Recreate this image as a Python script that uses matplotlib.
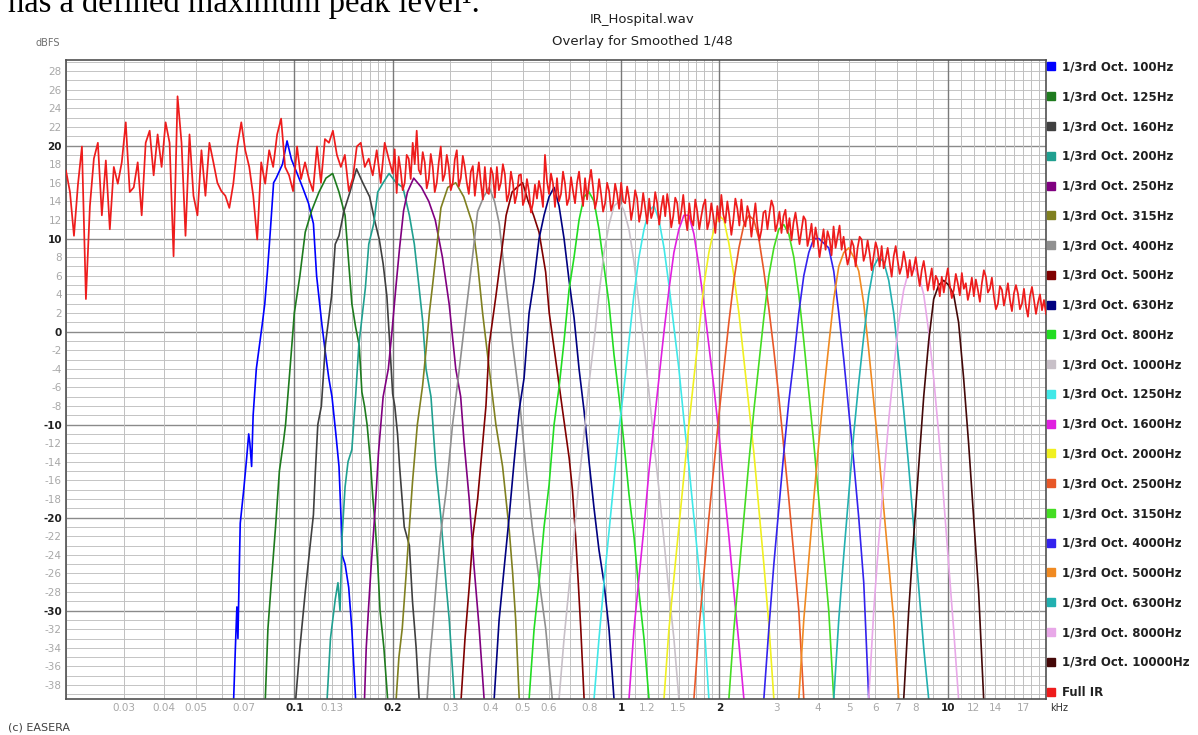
import numpy as np
import matplotlib
matplotlib.use("Agg")
import matplotlib.pyplot as plt
from matplotlib.lines import Line2D
from matplotlib.ticker import NullLocator

# ---- data (frequency in kHz, level in dBFS) ----
f_100 = [0.0652, 0.0660, 0.0667, 0.0672, 0.0678, 0.0683, 0.0700, 0.0715, 0.0725, 0.0731, 0.0740, 0.0748, 0.0765,
         0.0797, 0.0812, 0.0827, 0.0845, 0.0864, 0.0880, 0.0920, 0.0950, 0.0980, 0.1020, 0.1060, 0.1105, 0.1144,
         0.1170, 0.1215, 0.1245, 0.1275, 0.1304, 0.1340, 0.1370, 0.1390, 0.1400, 0.1430, 0.1467, 0.1500, 0.1540]
db_100 = [-39.5, -34, -29.6, -33, -26, -20.6, -17, -13.5, -11, -12, -14.5, -9, -4, 0.7, 3, 6.4, 11, 16, 16.5, 18,
          20.5, 18.5, 17, 15.5, 13.8, 11.6, 6, 0.7, -2.3, -5, -7, -11, -14.5, -20, -24, -25, -27.5, -32, -39.5]

f_125 = [0.0815, 0.0830, 0.0850, 0.0876, 0.0900, 0.0925, 0.0940, 0.0970, 0.1000, 0.1040, 0.1080, 0.1130, 0.1190,
         0.1250, 0.1310, 0.1370, 0.1430, 0.1470, 0.1500, 0.1540, 0.1580, 0.1610, 0.1640, 0.1670, 0.1710, 0.1740,
         0.1770, 0.1800, 0.1830, 0.1880, 0.1930]
db_125 = [-39.5, -32, -27, -21, -15, -12, -10, -4, 2, 6, 10.7, 13, 15, 16.5, 17, 15, 12.5, 7, 3, 0.5, -1.5, -6.5,
          -8, -10, -14, -18, -21, -25, -30, -34, -39.5]

f_160 = [0.1010, 0.1040, 0.1080, 0.1110, 0.1144, 0.1160, 0.1180, 0.1210, 0.1245, 0.1300, 0.1334, 0.1370, 0.1420,
         0.1480, 0.1550, 0.1620, 0.1700, 0.1760, 0.1820, 0.1870, 0.1920, 0.1960, 0.2000, 0.2030, 0.2070, 0.2100,
         0.2170, 0.2250, 0.2300, 0.2360, 0.2410]
db_160 = [-39.5, -34, -28, -24, -19.7, -15, -10, -8, -1.4, 3.8, 9.4, 10.3, 13, 15, 17.5, 16, 14.5, 12, 9.9, 7.3,
          3.8, -1.4, -6.7, -8, -11, -14.5, -21, -23, -29, -34, -39.5]

f_200 = [0.1260, 0.1290, 0.1334, 0.1360, 0.1380, 0.1400, 0.1430, 0.1460, 0.1500, 0.1540, 0.1576, 0.1650, 0.1690,
         0.1750, 0.1800, 0.1870, 0.1950, 0.2050, 0.2150, 0.2250, 0.2330, 0.2410, 0.2470, 0.2530, 0.2620, 0.2710,
         0.2810, 0.2920, 0.2980, 0.3090]
db_200 = [-39.5, -33, -28.8, -27, -30, -22, -16.7, -14, -12.7, -7, -1.4, 4.7, 9.4, 11.6, 15, 16, 17, 16, 15.5,
          12.5, 9.4, 4.7, 1.2, -4, -7, -14.5, -20, -27.5, -31, -39.5]

f_250 = [0.1640, 0.1660, 0.1690, 0.1720, 0.1770, 0.1810, 0.1870, 0.1940, 0.1990, 0.2045, 0.2100, 0.2160, 0.2220,
         0.2320, 0.2450, 0.2580, 0.2700, 0.2840, 0.2980, 0.3050, 0.3120, 0.3230, 0.3310, 0.3430, 0.3550, 0.3680,
         0.3810]
db_250 = [-39.5, -34, -29.3, -25, -18.8, -13, -7, -4, 0, 4.7, 9, 13, 15, 16.5, 15.5, 14, 12, 8, 2.9, -0.6, -4,
          -7, -12, -18, -25.3, -31.9, -39.5]

f_315 = [0.2050, 0.2090, 0.2140, 0.2200, 0.2250, 0.2300, 0.2380, 0.2470, 0.2530, 0.2590, 0.2650, 0.2710, 0.2810,
         0.2950, 0.3120, 0.3300, 0.3510, 0.3640, 0.3770, 0.3950, 0.4140, 0.4340, 0.4550, 0.4660, 0.4760, 0.4880]
db_315 = [-39.5, -35, -31.9, -26, -21, -16.2, -10, -5.8, -2, 2, 5, 8.1, 13.3, 15.5, 16, 14.5, 11.6, 7.3, 2, -4,
          -10, -14.5, -21.4, -26, -31, -39.5]

f_400 = [0.2550, 0.2600, 0.2650, 0.2720, 0.2800, 0.2920, 0.3050, 0.3200, 0.3350, 0.3510, 0.3640, 0.3800, 0.3950,
         0.4100, 0.4240, 0.4450, 0.4660, 0.4880, 0.5110, 0.5350, 0.5610, 0.5880, 0.6160]
db_400 = [-39.5, -35, -31.9, -27, -22, -17, -10, -4, 2, 8, 12.9, 14.5, 15.5, 14, 11.6, 4.7, -1.4, -7, -14.5, -21,
          -26.6, -31.9, -39.5]

f_500 = [0.3240, 0.3330, 0.3430, 0.3520, 0.3640, 0.3750, 0.3860, 0.3950, 0.4140, 0.4340, 0.4450, 0.4640, 0.4800,
         0.5000, 0.5200, 0.5400, 0.5610, 0.5880, 0.6030, 0.6320, 0.6620, 0.6940, 0.7100, 0.7270, 0.7400, 0.7530,
         0.7710]
db_500 = [-39.5, -33, -27.5, -22, -18, -13, -8, -1.4, 3.8, 9.4, 12.5, 15, 15.5, 16, 14, 12.5, 10.7, 6.4, 2, -3.2,
          -8.4, -13.6, -17, -22.3, -27, -31.9, -39.5]

f_630 = [0.409, 0.4235, 0.4386, 0.4544, 0.4707, 0.4876, 0.5050, 0.5232, 0.5419, 0.5613, 0.5814, 0.6023, 0.6239,
         0.6462, 0.6694, 0.6934, 0.7183, 0.7440, 0.7707, 0.7985, 0.8270, 0.8564, 0.8870, 0.9190, 0.9519]
db_630 = [-39.5, -31, -25.5, -20, -14, -8.5, -5, 2, 5.5, 10, 12.5, 14.5, 15.5, 13.5, 10, 5.5, 1.5, -4, -8.5, -14,
          -19, -23.5, -27, -32, -39.5]

f_800 = [0.5232, 0.5419, 0.5613, 0.5814, 0.6023, 0.6239, 0.6462, 0.6694, 0.6934, 0.7183, 0.7440, 0.7707, 0.7985,
         0.8270, 0.8564, 0.8870, 0.9190, 0.9519, 0.9860, 1.0214, 1.0580, 1.0959, 1.135, 1.176, 1.218]
db_800 = [-39.5, -32, -27, -21, -16.5, -10, -6, -1, 4.5, 8, 12, 14.5, 15, 14, 11, 7, 3, -2.5, -7, -12, -17.5, -22,
          -28, -33, -39.5]

f_1000 = [0.6462, 0.6694, 0.6934, 0.7183, 0.7440, 0.7707, 0.7985, 0.8270, 0.8564, 0.8870, 0.9190, 0.9519, 0.9860,
          1.0214, 1.0580, 1.0959, 1.135, 1.176, 1.218, 1.262, 1.307, 1.354, 1.402, 1.452, 1.504]
db_1000 = [-39.5, -33, -27.5, -22, -16, -11, -5.5, -1, 4, 8.5, 11.5, 13.5, 14, 13, 11, 7.5, 3, -1.5, -6.5, -12,
           -17, -22.5, -28, -33, -39.5]

f_1250 = [0.8270, 0.8564, 0.8870, 0.9190, 0.9519, 0.9860, 1.0214, 1.0580, 1.0959, 1.135, 1.176, 1.218, 1.262,
          1.307, 1.354, 1.402, 1.452, 1.504, 1.558, 1.614, 1.672, 1.732, 1.794, 1.858]
db_1250 = [-39.5, -33, -27, -21.5, -16, -10.5, -6, -1, 4, 8, 11, 13, 13.5, 12, 9, 5, 0.5, -4, -9.5, -14.5, -20,
           -25.5, -31, -39.5]

f_1600 = [1.0580, 1.0959, 1.135, 1.176, 1.218, 1.262, 1.307, 1.354, 1.402, 1.452, 1.504, 1.558, 1.614, 1.672,
          1.732, 1.794, 1.858, 1.925, 1.994, 2.065, 2.139, 2.216, 2.296, 2.378]
db_1600 = [-39.5, -32, -26.5, -21, -15, -10, -5, 0, 4.5, 8.5, 11, 12.5, 12.5, 10.5, 7, 3, -1.5, -6, -11, -16.5,
           -22, -28, -33.5, -39.5]

f_2000 = [1.354, 1.402, 1.452, 1.504, 1.558, 1.614, 1.672, 1.732, 1.794, 1.858, 1.925, 1.994, 2.065, 2.139, 2.216,
          2.296, 2.378, 2.463, 2.551, 2.642, 2.737, 2.835, 2.937]
db_2000 = [-39.5, -32, -26.5, -21, -15.5, -10, -5, 0, 5, 8.5, 11, 12.5, 12, 9.5, 6, 2, -3, -8, -13, -19, -25,
           -31.5, -39.5]

f_2500 = [1.672, 1.732, 1.794, 1.858, 1.925, 1.994, 2.065, 2.139, 2.216, 2.296, 2.378, 2.463, 2.551, 2.642, 2.737,
          2.835, 2.937, 3.042, 3.151, 3.264, 3.381, 3.502, 3.627]
db_2500 = [-39.5, -32, -26, -20, -14.5, -9, -4, 1, 5.5, 9, 11.5, 12.5, 12, 10, 6.5, 2.5, -2, -7, -12.5, -18, -24,
           -30, -39.5]

f_3150 = [2.139, 2.216, 2.296, 2.378, 2.463, 2.551, 2.642, 2.737, 2.835, 2.937, 3.042, 3.151, 3.264, 3.381, 3.502,
          3.627, 3.757, 3.892, 4.031, 4.176, 4.325, 4.480]
db_3150 = [-39.5, -32, -26, -20, -14, -8.5, -3.5, 1.5, 6, 9, 11, 11.5, 10.5, 8, 4, -1, -6.5, -12, -18, -24, -30,
           -39.5]

f_4000 = [2.737, 2.835, 2.937, 3.042, 3.151, 3.264, 3.381, 3.502, 3.627, 3.757, 3.892, 4.031, 4.176, 4.325, 4.480,
          4.641, 4.808, 4.980, 5.158, 5.343, 5.535, 5.733]
db_4000 = [-39.5, -32, -25, -19, -13, -7.5, -3, 2, 6, 8.5, 10, 10, 9.5, 9, 6.5, 2, -3, -8.5, -14, -20, -27, -39.5]

f_5000 = [3.502, 3.627, 3.757, 3.892, 4.031, 4.176, 4.325, 4.480, 4.641, 4.808, 4.980, 5.158, 5.343, 5.535, 5.733,
          5.939, 6.152, 6.372, 6.601, 6.837, 7.082]
db_5000 = [-39.5, -31, -24.5, -18, -12, -6.5, -1.5, 3.5, 7, 8.5, 9, 8, 6.5, 3, -2, -7.5, -13, -19, -25, -31, -39.5]

f_6300 = [4.480, 4.641, 4.808, 4.980, 5.158, 5.343, 5.535, 5.733, 5.939, 6.152, 6.372, 6.601, 6.837, 7.082, 7.336,
          7.599, 7.871, 8.154, 8.446, 8.749]
db_6300 = [-39.5, -31, -24, -17.5, -11, -5.5, -0.5, 4, 7, 8, 7.5, 5.5, 2, -3, -8.5, -14.5, -21, -27.5, -34, -39.5]

f_8000 = [5.733, 5.939, 6.152, 6.372, 6.601, 6.837, 7.082, 7.336, 7.599, 7.871, 8.154, 8.446, 8.749, 9.062, 9.387,
          9.723, 10.07, 10.43, 10.80]
db_8000 = [-39.5, -30, -22.5, -16, -9.5, -4, 1, 4.5, 6.5, 7, 6, 4, 0, -5, -11, -18, -25, -32, -39.5]

f_10000 = [7.336, 7.599, 7.871, 8.154, 8.446, 8.749, 9.062, 9.387, 9.723, 10.07, 10.43, 10.80, 11.19, 11.59, 12.01,
           12.44, 12.89]
db_10000 = [-39.5, -30, -22, -14.5, -7, -1, 3.5, 5, 5.5, 5, 4, 1, -5, -12, -20, -28, -39.5]

# full IR, 0.02 .. 0.2 kHz (coarser reading) and 0.2 .. 20 kHz (finer reading)
ir_lo_db = [17.3, 15.0, 10.3, 15.8, 19.9, 3.5, 13.5, 18.6, 20.3, 12.5, 18.4, 11.0, 17.7, 15.9, 18.2, 22.5, 15.0,
            15.5, 18.2, 12.5, 20.3, 21.6, 16.8, 21.2, 17.7, 22.5, 20.3, 8.1, 25.3, 20.3, 10.3, 21.2, 14.6, 12.5,
            19.5, 14.6, 20.3, 18.2, 16.0, 15.1, 14.6, 13.3, 15.9, 19.9, 22.5, 19.5, 17.7, 14.6, 9.9, 18.2, 15.9,
            19.5, 17.7, 21.2, 22.9, 17.7, 16.8, 15.1, 19.9, 16.4, 18.2, 16.4, 15.1, 19.9, 16.0, 20.7, 20.3, 21.6,
            19.0, 17.7, 19.0, 15.1, 16.5, 19.9, 20.3, 17.7, 18.6, 16.8, 19.5, 16.0, 20.3, 18.6]
ir_hi_db = [17.0, 19.6, 14.9, 18.8, 17.3, 15.2, 16.0, 19.0, 18.6, 16.4, 20.3, 18.0, 21.6, 17.4, 16.9, 19.3, 18.2,
            15.4, 16.4, 19.1, 17.7, 15.0, 16.0, 18.2, 19.9, 16.2, 16.9, 19.0, 17.7, 15.2, 16.0, 18.5, 19.5, 15.6,
            16.5, 18.9, 17.7, 16.0, 14.8, 17.2,
            17.8, 14.6, 16.5, 18.2, 16.0, 14.2, 17.7, 15.0, 14.8, 17.6, 16.9, 14.4, 17.7, 15.2, 16.0, 18.0, 16.9,
            14.0, 14.8, 17.2, 16.0, 13.8, 14.8, 16.8, 16.9, 13.6, 14.3, 16.4, 15.1, 12.8, 13.8, 15.8, 14.3, 16.2,
            15.1, 13.4,
            19.0, 16.2, 14.8, 17.0, 15.9, 13.4, 16.5, 14.0, 14.8, 17.2, 15.9, 13.6, 14.3, 16.6, 15.1, 13.8, 16.0,
            17.2, 15.1, 13.5, 16.5, 14.2, 16.0, 17.4, 15.5, 13.2, 14.3, 16.4, 14.8, 12.9, 13.8, 16.0, 15.1, 13.0,
            13.8, 15.9, 14.8, 13.2, 16.0, 14.0,
            13.8, 15.6, 14.3, 12.0, 13.3, 15.2, 14.3, 11.8, 12.9, 14.9, 13.3, 11.6, 14.3, 12.2, 12.9, 15.0, 13.8,
            11.5, 13.3, 14.6, 12.4, 14.8, 13.4, 11.2, 12.4, 14.4, 13.8, 11.6, 12.9, 14.7, 12.4, 10.9, 13.8, 12.0,
            11.4, 14.2, 12.9, 11.0, 12.4, 13.6,
            14.2, 11.0, 11.9, 13.8, 12.4, 10.6, 13.5, 11.8, 14.7, 12.6, 11.7, 14.0, 12.4, 10.4, 12.0, 14.3, 13.2,
            11.4, 14.2, 12.0, 11.3, 13.5, 12.6, 10.2, 12.0, 13.8, 11.4, 9.8, 10.9, 12.8, 13.0, 11.0, 12.7, 14.1,
            13.4, 10.8, 11.6, 12.9, 10.6, 12.4,
            13.1, 10.6, 12.2, 9.8, 11.7, 12.8, 11.2, 9.4, 10.9, 12.4, 12.0, 9.2, 10.2, 11.6, 9.1, 11.2, 9.9, 8.0,
            9.5, 11.0, 8.8, 10.8, 10.0, 8.2, 11.3, 9.0, 10.2, 11.4, 8.8, 10.2, 8.5, 7.2, 8.1, 9.8,
            9.2, 7.0, 9.0, 10.2, 9.9, 7.6, 8.4, 9.8, 8.4, 6.6, 8.1, 9.6, 8.8, 7.0, 9.2, 6.8, 7.8, 9.0, 7.4, 5.9,
            8.1, 9.2, 7.6, 6.2, 7.0, 8.6, 7.4, 5.8, 7.7, 6.0, 6.8, 8.0, 6.3, 4.9, 6.6, 7.6,
            6.1, 4.4, 5.6, 6.8, 4.5, 6.0, 5.5, 3.8, 5.9, 4.2, 5.6, 6.8, 5.0, 3.6, 4.5, 6.2, 5.2, 3.9, 6.3, 4.6,
            5.2, 3.4, 4.4, 5.8, 3.8, 5.6, 4.5, 3.2, 5.2, 6.6, 5.9, 4.2, 4.6, 5.8,
            3.8, 2.4, 3.0, 4.9, 4.5, 2.8, 3.9, 5.2, 3.4, 2.2, 4.1, 5.0, 4.1, 2.4, 3.0, 4.6, 2.7, 1.6, 3.8, 4.8,
            3.4, 1.9, 3.1, 4.0, 2.3, 3.4, 1.9]

band_labels = ["1/3rd Oct. 100Hz", "1/3rd Oct. 125Hz", "1/3rd Oct. 160Hz", "1/3rd Oct. 200Hz",
               "1/3rd Oct. 250Hz", "1/3rd Oct. 315Hz", "1/3rd Oct. 400Hz", "1/3rd Oct. 500Hz",
               "1/3rd Oct. 630Hz", "1/3rd Oct. 800Hz", "1/3rd Oct. 1000Hz", "1/3rd Oct. 1250Hz",
               "1/3rd Oct. 1600Hz", "1/3rd Oct. 2000Hz", "1/3rd Oct. 2500Hz", "1/3rd Oct. 3150Hz",
               "1/3rd Oct. 4000Hz", "1/3rd Oct. 5000Hz", "1/3rd Oct. 6300Hz", "1/3rd Oct. 8000Hz",
               "1/3rd Oct. 10000Hz"]
band_colors = ["#0000ff", "#1e7b1e", "#404040", "#20a090", "#800080", "#808020", "#909090", "#800000",
               "#000080", "#22dd22", "#c8c0c8", "#40e8e8", "#e020e0", "#f0f020", "#e85828", "#44dd22",
               "#3322ee", "#f08a22", "#22b0b0", "#e8a8e8", "#440808"]
ir_color = "#ee1c1c"

x_tick_vals = [0.03, 0.04, 0.05, 0.07, 0.1, 0.13, 0.2, 0.3, 0.4, 0.5, 0.6, 0.8, 1, 1.2, 1.5, 2, 3, 4, 5, 6, 7, 8,
               10, 12, 14, 17]
x_tick_labels = ["0.03", "0.04", "0.05", "0.07", "0.1", "0.13", "0.2", "0.3", "0.4", "0.5", "0.6", "0.8", "1",
                 "1.2", "1.5", "2", "3", "4", "5", "6", "7", "8", "10", "12", "14", "17"]
x_strong = ["0.1", "0.2", "1", "2", "10"]

band_f = [f_100, f_125, f_160, f_200, f_250, f_315, f_400, f_500, f_630, f_800, f_1000, f_1250, f_1600, f_2000,
          f_2500, f_3150, f_4000, f_5000, f_6300, f_8000, f_10000]
band_db = [db_100, db_125, db_160, db_200, db_250, db_315, db_400, db_500, db_630, db_800, db_1000, db_1250,
           db_1600, db_2000, db_2500, db_3150, db_4000, db_5000, db_6300, db_8000, db_10000]

# sample positions of the IR readings (evenly spaced on the log axis)
ir_f = np.concatenate([np.geomspace(0.02, 0.2, len(ir_lo_db) + 1)[:-1], np.geomspace(0.2, 20, len(ir_hi_db))])
ir_db = ir_lo_db + ir_hi_db

W, H = 1198, 735
fig = plt.figure(figsize=(W / 100, H / 100), dpi=100)
ax = fig.add_axes([66 / W, 1 - 699 / H, 980 / W, 639 / H])
ax.set_xscale("log")
ax.set_xlim(0.02, 20)
ax.set_ylim(-39.5, 29.2)

# grid: 1 dB rows, 1-2-..-9 columns with extra tenths between 1 and 2
for v in range(-39, 30):
    strong = v % 10 == 0
    ax.axhline(v, color="#8a8a8a" if strong else "#c4c4c4", lw=1.0 if strong else 0.7, zorder=0)
grid_x = ([k / 100 for k in range(2, 10)] + [k / 100 for k in range(10, 21)] + [k / 10 for k in range(3, 10)]
          + [k / 10 for k in range(10, 21)] + list(range(3, 10)) + list(range(10, 20)))
for g in grid_x:
    strong = any(abs(g - s) < 1e-9 for s in (0.1, 0.2, 1, 2, 10))
    ax.axvline(g, color="#7a7a7a" if strong else "#c0c0c0", lw=1.0 if strong else 0.7, zorder=0)

handles = []
for lab, col, fx, dy in zip(band_labels, band_colors, band_f, band_db):
    ax.plot(fx, dy, color=col, lw=1.2, zorder=2)
    handles.append(Line2D([], [], ls="none", marker="s", ms=6, color=col))
ax.plot(ir_f, ir_db, color=ir_color, lw=1.25, zorder=3)
handles.append(Line2D([], [], ls="none", marker="s", ms=6, color=ir_color))

ax.xaxis.set_minor_locator(NullLocator())
ax.set_xticks(x_tick_vals, labels=x_tick_labels)
ax.set_yticks(list(range(-38, 29, 2)))
ax.set_yticklabels([str(v) for v in range(-38, 29, 2)])
ax.tick_params(which="both", length=0, labelsize=7.5, pad=3)
for t in ax.get_xticklabels():
    if t.get_text() in x_strong:
        t.set_color("#202020"); t.set_fontweight("bold")
    else:
        t.set_color("#a8a8a8")
for t in ax.get_yticklabels():
    if int(t.get_text()) % 10 == 0:
        t.set_color("#202020"); t.set_fontweight("bold")
    else:
        t.set_color("#a8a8a8")
for s in ax.spines.values():
    s.set_color("#505050")
    s.set_linewidth(1.2)

leg = ax.legend(handles, band_labels + ["Full IR"], loc="upper left", bbox_to_anchor=(1.0, 1.0),
                borderaxespad=0, borderpad=0.05, frameon=False, handlelength=0.8, handletextpad=0.5,
                labelspacing=1.42, prop={"family": ["Liberation Sans Narrow", "DejaVu Sans"],
                                         "weight": "bold", "size": 8.5})
for t in leg.get_texts():
    t.set_color("#202020")

fig.text(642 / W, 1 - 20 / H, "IR_Hospital.wav", ha="center", va="center", fontsize=9.5, color="#202020")
fig.text(642 / W, 1 - 42 / H, "Overlay for Smoothed 1/48", ha="center", va="center", fontsize=9.5,
         color="#202020")
fig.text(48 / W, 1 - 43 / H, "dBFS", ha="center", va="center", fontsize=7, color="#707070")
fig.text(1050 / W, 1 - 708 / H, "kHz", ha="left", va="center", fontsize=7, color="#303030")
fig.text(8 / W, 1 - 727 / H, "(c) EASERA", ha="left", va="center", fontsize=8, color="#404040")
fig.text(8 / W, 1 - 12 / H, "has a defined maximum peak level\u00b9.", ha="left", va="baseline",
         fontsize=23.5, family="Liberation Serif", color="black")

fig.savefig("out.png", dpi=100)
